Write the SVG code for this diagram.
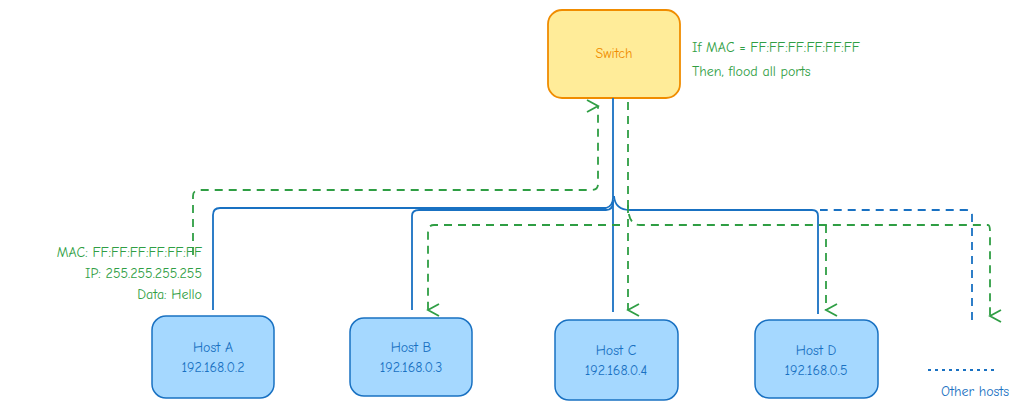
<svg xmlns="http://www.w3.org/2000/svg" width="1034" height="413" viewBox="0 0 1034 413">
<style>
text{font-family:"Comic Neue","Liberation Sans",sans-serif;font-size:14px}
.host rect{fill:#a5d8ff;stroke:#1971c2;stroke-width:1.5}
.host text{fill:#1971c2;text-anchor:middle}
.b{fill:none;stroke:#1971c2;stroke-width:1.8}
.g{fill:none;stroke:#2f9e44;stroke-width:1.8;stroke-dasharray:8 6}
.gt{fill:#2f9e44}
</style>
<defs>
<marker id="ga" markerWidth="14" markerHeight="14" refX="7" refY="12" orient="auto-start-reverse" markerUnits="userSpaceOnUse" viewBox="0 0 14 14">
<path d="M1 1 L7 12 L13 1" fill="none" stroke="#2f9e44" stroke-width="1.8"/>
</marker>
</defs>
<g id="switch">
<rect x="548" y="10" width="132" height="88" rx="14" fill="#ffec99" stroke="#f08c00" stroke-width="1.8"/>
<text x="614" y="58" text-anchor="middle" fill="#f08c00" font-size="13">Switch</text>
</g>
<g id="note-switch"><text class="gt" x="692" y="52">If MAC = FF:FF:FF:FF:FF:FF</text><text class="gt" x="692" y="76">Then, flood all ports</text></g>
<g id="note-frame" text-anchor="end"><text class="gt" x="202" y="257">MAC: FF:FF:FF:FF:FF:FF</text><text class="gt" x="202" y="278">IP: 255.255.255.255</text><text class="gt" x="202" y="299">Data: Hello</text></g>
<g id="hostA" class="host"><rect x="152" y="316" width="122" height="82" rx="14"/><text x="213" y="352">Host A</text><text x="213" y="372">192.168.0.2</text></g>
<g id="hostB" class="host"><rect x="350" y="318" width="122" height="78" rx="14"/><text x="411" y="352">Host B</text><text x="411" y="372">192.168.0.3</text></g>
<g id="hostC" class="host"><rect x="555" y="320" width="123" height="80" rx="14"/><text x="616" y="355">Host C</text><text x="616" y="375">192.168.0.4</text></g>
<g id="hostD" class="host"><rect x="755" y="320" width="123" height="78" rx="14"/><text x="816" y="355">Host D</text><text x="816" y="375">192.168.0.5</text></g>
<g id="other"><path d="M928 370 H998" fill="none" stroke="#1971c2" stroke-width="2" stroke-dasharray="3 4"/><text x="975" y="396" text-anchor="middle" fill="#1971c2" font-size="13">Other hosts</text></g>
<g id="connectors">
<path class="b" d="M213 310 V215 Q213 208 220 208 H606 Q613 206 613 198 V98"/>
<path class="b" d="M412 310 V216 Q412 210 419 210 H606 Q613 210 613 202"/>
<path class="b" d="M613 312 V200"/>
<path class="b" d="M818 314 V216 Q818 210 812 210 H630 Q615 210 614 196"/>
<path class="b" d="M972 320 V215 Q972 210 966 210 H820" stroke-dasharray="8 6"/>
<path class="g" d="M193 255 V196 Q193 190 200 190 H592 Q598 190 598 184 V106" marker-end="url(#ga)"/>
<path class="g" d="M628 102 V205 Q628 225 640 225 H988 Q990 225 990 232 V316" marker-end="url(#ga)"/>
<path class="g" d="M628 205 V310" marker-end="url(#ga)"/>
<path class="g" d="M620 225 H434 Q428 225 428 232 V310" marker-end="url(#ga)"/>
<path class="g" d="M826 225 V310" marker-end="url(#ga)"/>
</g>
</svg>
